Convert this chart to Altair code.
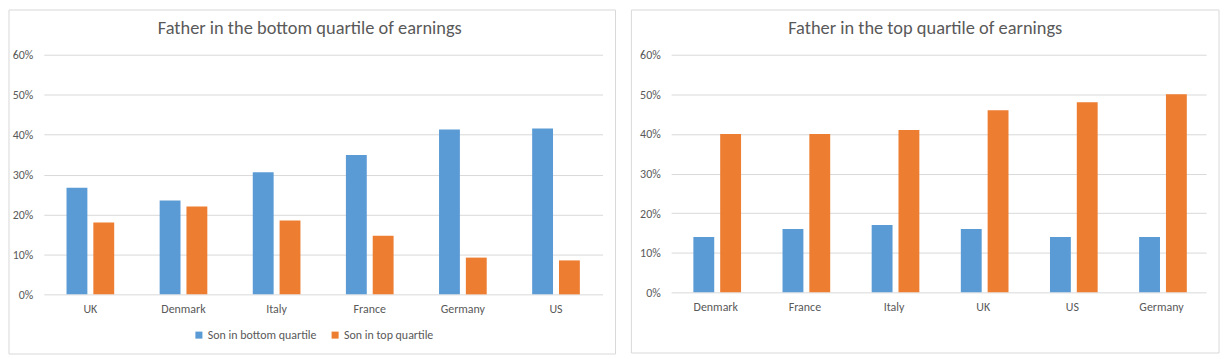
import altair as alt
import pandas as pd

# ---- data ----
left_countries = ["UK", "Denmark", "Italy", "France", "Germany", "US"]
left_bottom = [0.267, 0.235, 0.306, 0.349, 0.413, 0.415]
left_top = [0.180, 0.220, 0.185, 0.147, 0.092, 0.085]

right_countries = ["Denmark", "France", "Italy", "UK", "US", "Germany"]
right_bottom = [0.14, 0.16, 0.17, 0.16, 0.14, 0.14]
right_top = [0.40, 0.40, 0.41, 0.46, 0.48, 0.50]

series = ["Son in bottom quartile", "Son in top quartile"]
colors = ["#5B9BD5", "#ED7D31"]
titles = ["Father in the bottom quartile of earnings", "Father in the top quartile of earnings"]
y_ticks = [0, 0.1, 0.2, 0.3, 0.4, 0.5, 0.6]

FONT = "Carlito, Lato"
GRAY = "#595959"


def make_df(countries, bottom, top):
    rows = []
    for c, b, t in zip(countries, bottom, top):
        rows.append({"country": c, "series": series[0], "value": b})
        rows.append({"country": c, "series": series[1], "value": t})
    return pd.DataFrame(rows)


def panel(countries, bottom, top, title, W, H, pin, pin_off,
          rx, rx2, ry, ry2, tx, legx, legy):
    df = make_df(countries, bottom, top)
    bars = alt.Chart(df).mark_bar().encode(
        x=alt.X("country:N", sort=countries, title=None,
                scale=alt.Scale(paddingInner=pin, paddingOuter=pin / 2),
                axis=alt.Axis(labelAngle=0, ticks=False, tickSize=0, domain=False,
                              labelPadding=9, labelFont=FONT, labelFontSize=12,
                              labelColor=GRAY, grid=False)),
        xOffset=alt.XOffset("series:N", sort=series,
                            scale=alt.Scale(paddingInner=pin_off, paddingOuter=0)),
        y=alt.Y("value:Q", title=None,
                scale=alt.Scale(domain=[0, 0.6], nice=False),
                axis=alt.Axis(values=y_ticks, format=".0%", ticks=False, tickSize=0,
                              domain=False, labelPadding=11, labelFont=FONT,
                              labelFontSize=12, labelColor=GRAY, grid=True,
                              gridColor="#D9D9D9", gridWidth=1)),
        color=alt.Color("series:N", sort=series,
                        scale=alt.Scale(domain=series, range=colors),
                        legend=alt.Legend(title=None, orient="none", direction="horizontal",
                                          legendX=legx, legendY=legy,
                                          symbolType="square", symbolSize=50,
                                          symbolStrokeWidth=0, labelFont=FONT,
                                          labelFontSize=12, labelColor=GRAY,
                                          columnPadding=12, labelOffset=3)),
    )
    frame = alt.Chart(pd.DataFrame({"t": [title]})).mark_rect(
        fill="white", fillOpacity=0, stroke="#D9D9D9", strokeWidth=1
    ).encode(x=alt.value(rx), x2=alt.value(rx2), y=alt.value(ry), y2=alt.value(ry2))
    ttl = alt.Chart(pd.DataFrame({"t": [title]})).mark_text(
        font=FONT, fontSize=18.5, color=GRAY, align="center", baseline="alphabetic"
    ).encode(text="t:N", x=alt.value(tx), y=alt.value(-21))
    return alt.layer(frame, bars, ttl).properties(width=W, height=H)


left = panel(left_countries, left_bottom, left_top, titles[0], 562, 241, 0.488, 0.222,
             -35, 575, -45, 301, 267.5, 150, 276)
right = panel(right_countries, right_bottom, right_top, titles[1], 538, 239, 0.498, 0.2,
              -40, 551, -45, 300, 255.5, 138, 274)

chart = alt.hconcat(left, right, spacing=14).properties(
    padding=0, background="white"
).configure_view(stroke=None).configure_legend(labelLimit=300)

chart.save("out.html", embed_options={"renderer": "svg", "actions": False})
